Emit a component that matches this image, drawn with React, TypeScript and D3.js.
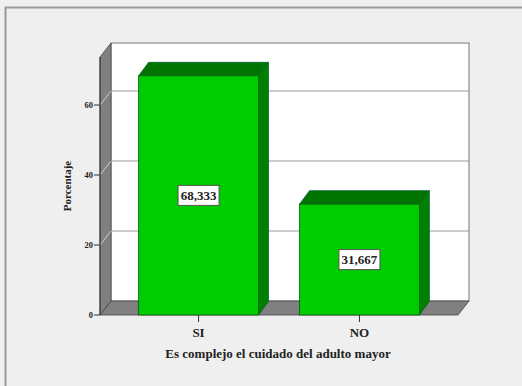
import React from "react";
import * as d3 from "d3";

const categories = ["SI", "NO"];
const percentages = [68.333, 31.667];
const valueLabels = ["68,333", "31,667"];
const yTicks = [0, 20, 40, 60];
const yTitle = "Porcentaje";
const xTitle = "Es complejo el cuidado del adulto mayor";

const App = () => {
  const width = 522;
  const height = 386;
  // front plane of the 3D box
  const left = 100;
  const right = 458;
  const bottom = 315;
  const yMax = 73.7;
  // depth offset of walls and bars
  const dx = 11;
  const dy = 14;
  const bdx = 10;
  const bdy = 13.5;

  const y = d3.scaleLinear().domain([0, yMax]).range([bottom, bottom - yMax * 3.5]);
  const x = d3
    .scaleBand()
    .domain(categories)
    .range([left, right])
    .paddingInner(0.255)
    .paddingOuter(0.24);

  const top = y(yMax);
  const font = { fontFamily: "'Liberation Serif', 'Times New Roman', 'DejaVu Serif', serif", fontWeight: 700 };
  const pts = (a) => a.map((p) => p.join(",")).join(" ");

  return (
    <div style={{ position: "absolute", left: 0, top: 0 }}>
      <svg width={width} height={height} style={{ display: "block" }}>
        <rect x={0} y={0} width={width} height={height} fill="#efefef" />
        {/* outer frame */}
        <line x1={5} y1={7.5} x2={width} y2={7.5} stroke="#999" strokeWidth={2} />
        <line x1={5.5} y1={7} x2={5.5} y2={height} stroke="#999" strokeWidth={2} />

        {/* back wall */}
        <rect
          x={left + dx}
          y={top - dy}
          width={right - left}
          height={bottom - top}
          fill="#ffffff"
          stroke="#777"
          strokeWidth={1}
        />
        {/* side wall */}
        <polygon
          points={pts([
            [left, top],
            [left + dx, top - dy],
            [left + dx, bottom - dy],
            [left, bottom],
          ])}
          fill="#808080"
          stroke="#444"
          strokeWidth={0.8}
        />
        {/* floor */}
        <polygon
          points={pts([
            [left, bottom],
            [left + dx, bottom - dy],
            [right + dx, bottom - dy],
            [right, bottom],
          ])}
          fill="#808080"
          stroke="#444"
          strokeWidth={0.8}
        />

        {/* gridlines */}
        {yTicks
          .filter((t) => t > 0)
          .map((t) => (
            <g key={t}>
              <line x1={left} y1={y(t)} x2={left + dx} y2={y(t) - dy} stroke="#ccc" strokeWidth={1} />
              <line
                x1={left + dx}
                y1={y(t) - dy}
                x2={right + dx}
                y2={y(t) - dy}
                stroke="#999"
                strokeWidth={1.2}
              />
            </g>
          ))}

        {/* y axis */}
        <line x1={left} y1={top} x2={left} y2={bottom} stroke="#333" strokeWidth={1} />
        {yTicks.map((t) => (
          <g key={t}>
            <line x1={left - 6} y1={y(t)} x2={left} y2={y(t)} stroke="#333" strokeWidth={1} />
            <text
              x={left - 7}
              y={y(t)}
              dy="0.35em"
              textAnchor="end"
              style={{ ...font, fontSize: 8.5 }}
              fill="#222"
            >
              {t}
            </text>
          </g>
        ))}
        <text
          transform={`translate(71,${(top + bottom) / 2}) rotate(-90)`}
          textAnchor="middle"
          style={{ ...font, fontSize: 11 }}
          fill="#222"
        >
          {yTitle}
        </text>

        {/* bars */}
        {categories.map((c, i) => {
          const x0 = x(c);
          const x1 = x0 + x.bandwidth();
          const yt = y(percentages[i]);
          const cx = x0 + x.bandwidth() / 2;
          const cy = (yt + bottom) / 2;
          return (
            <g key={c}>
              <polygon
                points={pts([
                  [x1, yt],
                  [x1 + bdx, yt - bdy],
                  [x1 + bdx, bottom - bdy],
                  [x1, bottom],
                ])}
                fill="#008000"
                stroke="#063"
                strokeWidth={0.8}
              />
              <polygon
                points={pts([
                  [x0, yt],
                  [x0 + bdx, yt - bdy],
                  [x1 + bdx, yt - bdy],
                  [x1, yt],
                ])}
                fill="#007400"
                stroke="#063"
                strokeWidth={0.8}
              />
              <rect
                x={x0}
                y={yt}
                width={x.bandwidth()}
                height={bottom - yt}
                fill="#00cc00"
                stroke="#0a5a0a"
                strokeWidth={0.8}
              />
              <rect
                x={cx - 20.5}
                y={cy - 10}
                width={41}
                height={20}
                fill="#ffffff"
                stroke="#555"
                strokeWidth={1}
              />
              <text
                x={cx}
                y={cy}
                dy="0.35em"
                textAnchor="middle"
                style={{ ...font, fontSize: 13 }}
                fill="#222"
              >
                {valueLabels[i]}
              </text>
              <line x1={cx} y1={bottom} x2={cx} y2={bottom + 7} stroke="#333" strokeWidth={1} />
              <text
                x={cx}
                y={bottom + 22}
                textAnchor="middle"
                style={{ ...font, fontSize: 13 }}
                fill="#222"
              >
                {c}
              </text>
            </g>
          );
        })}

        <text
          x={278}
          y={358}
          textAnchor="middle"
          style={{ ...font, fontSize: 13 }}
          fill="#222"
        >
          {xTitle}
        </text>
      </svg>
    </div>
  );
};

export default App;
